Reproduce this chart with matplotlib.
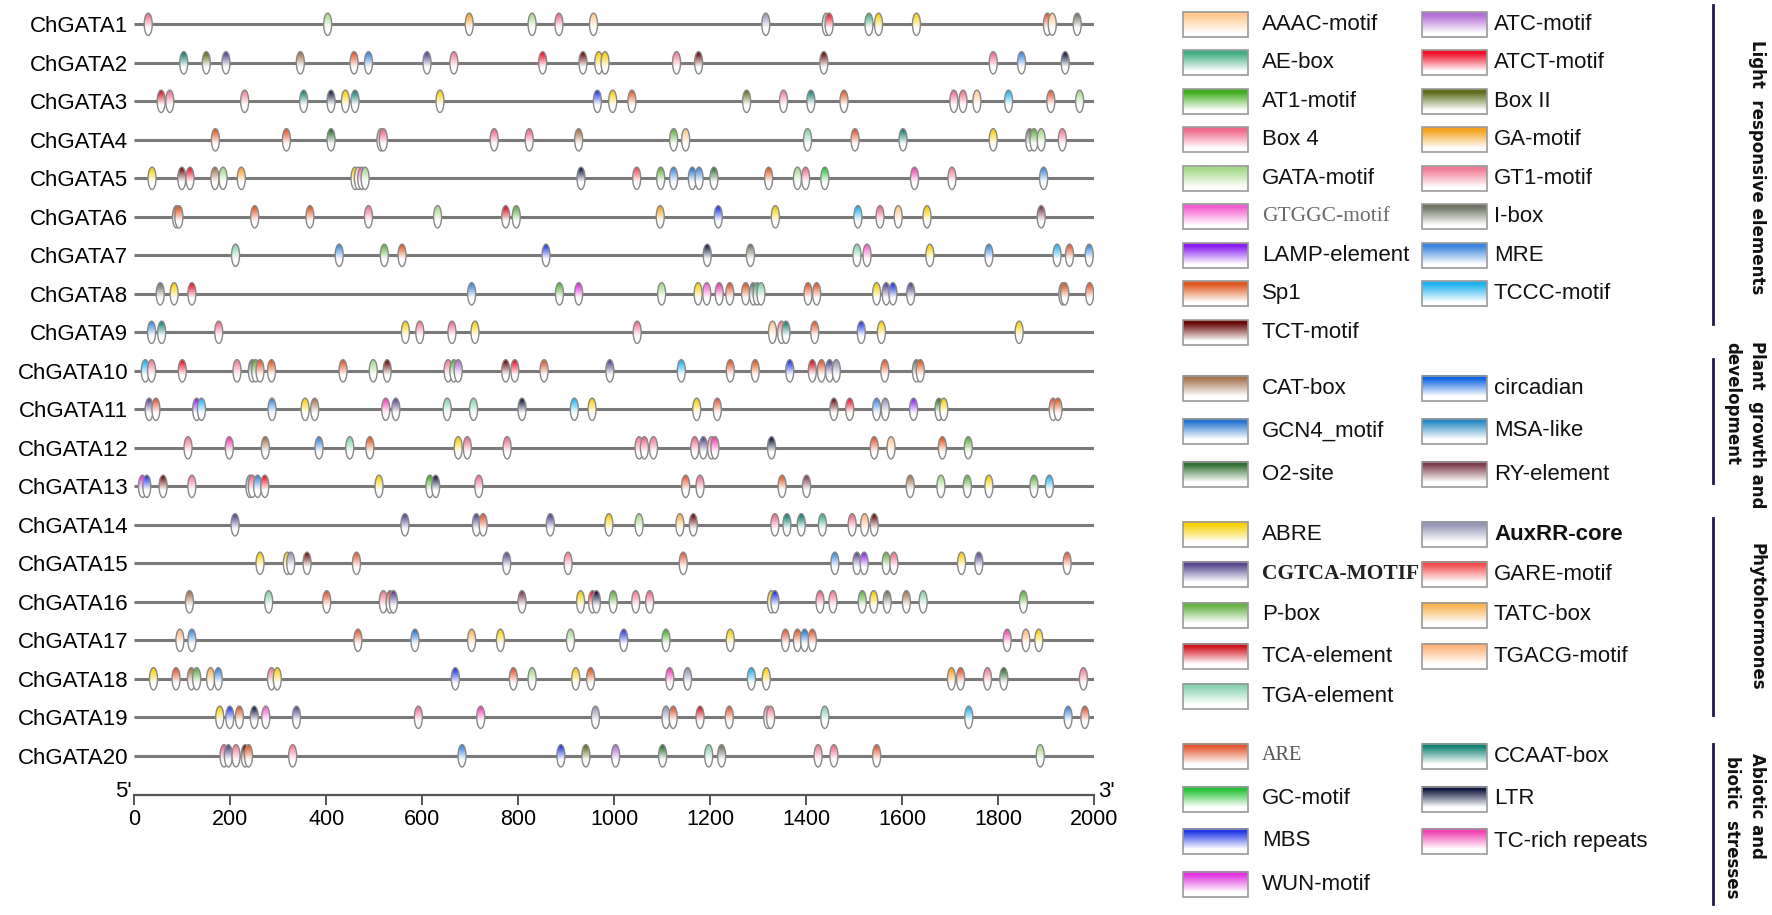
import numpy as np
import matplotlib
matplotlib.use("Agg")
import matplotlib.pyplot as plt
from matplotlib.patches import Ellipse, Rectangle
from matplotlib.colors import to_rgb

# promoter cis-elements of the ChGATA genes (position bp, element)
genes = ["ChGATA%d" % i for i in range(1, 21)]

gata1 = [(29, "Box 4"), (403, "GATA-motif"), (698, "GA-motif"), (829, "GATA-motif"), (885, "Box 4"),
         (957, "AAAC-motif"), (1316, "AuxRR-core"), (1442, "TGA-element"), (1448, "ATCT-motif"),
         (1531, "AE-box"), (1551, "ABRE"), (1630, "ABRE"), (1903, "ARE"), (1913, "AAAC-motif"), (1965, "I-box")]
gata2 = [(103, "CCAAT-box"), (150, "Box II"), (191, "CGTCA-MOTIF"), (346, "CAT-box"), (458, "ARE"),
         (488, "MRE"), (610, "CGTCA-MOTIF"), (666, "GT1-motif"), (851, "ATCT-motif"), (935, "TCT-motif"),
         (968, "ABRE"), (981, "ABRE"), (1130, "GT1-motif"), (1176, "TCT-motif"), (1437, "TCT-motif"),
         (1790, "Box 4"), (1849, "MRE"), (1940, "LTR")]
gata3 = [(56, "TCA-element"), (74, "Box 4"), (230, "GT1-motif"), (353, "CCAAT-box"), (410, "LTR"),
         (440, "ABRE"), (460, "CCAAT-box"), (637, "ABRE"), (965, "MBS"), (997, "ABRE"), (1037, "ARE"),
         (1276, "Box II"), (1353, "GT1-motif"), (1410, "CCAAT-box"), (1479, "Sp1"), (1708, "Box 4"),
         (1727, "Box 4"), (1756, "AAAC-motif"), (1822, "TCCC-motif"), (1910, "ARE"), (1970, "GATA-motif")]
gata4 = [(169, "Sp1"), (317, "ARE"), (410, "O2-site"), (514, "GT1-motif"), (519, "Box 4"), (750, "Box 4"),
         (823, "Box 4"), (926, "CAT-box"), (1124, "P-box"), (1149, "AAAC-motif"), (1403, "TGA-element"),
         (1502, "ARE"), (1602, "CCAAT-box"), (1790, "ABRE"), (1866, "I-box"), (1875, "P-box"),
         (1890, "GATA-motif"), (1934, "GT1-motif")]
gata5 = [(37, "ABRE"), (99, "TCT-motif"), (116, "ATCT-motif"), (168, "CAT-box"), (185, "GATA-motif"),
         (223, "GA-motif"), (460, "ABRE"), (467, "AAAC-motif"), (474, "GTGGC-motif"), (481, "GATA-motif"),
         (931, "LTR"), (1047, "GARE-motif"), (1097, "P-box"), (1124, "MRE"), (1163, "GCN4_motif"),
         (1177, "MRE"), (1208, "O2-site"), (1322, "Sp1"), (1382, "GATA-motif"), (1399, "Box 4"),
         (1439, "GC-motif"), (1626, "TC-rich repeats"), (1704, "GT1-motif"), (1895, "MRE")]
gata6 = [(88, "ARE"), (93, "Sp1"), (251, "ARE"), (366, "Sp1"), (488, "GT1-motif"), (632, "GATA-motif"),
         (774, "TCA-element"), (796, "P-box"), (1096, "GA-motif"), (1217, "MBS"), (1336, "ABRE"),
         (1508, "TCCC-motif"), (1554, "Box 4"), (1592, "AAAC-motif"), (1652, "ABRE"), (1890, "RY-element")]
gata7 = [(211, "TGA-element"), (427, "MRE"), (521, "P-box"), (558, "Sp1"), (858, "MBS"), (1194, "LTR"),
         (1284, "I-box"), (1506, "TGA-element"), (1527, "GTGGC-motif"), (1658, "ABRE"), (1781, "MRE"),
         (1923, "TCCC-motif"), (1949, "ARE"), (1990, "MRE")]
gata8 = [(54, "I-box"), (83, "ABRE"), (120, "ATCT-motif"), (703, "MRE"), (886, "P-box"), (926, "WUN-motif"),
         (1099, "GATA-motif"), (1175, "ABRE"), (1193, "GTGGC-motif"), (1219, "TC-rich repeats"),
         (1241, "ARE"), (1274, "Sp1"), (1290, "I-box"), (1298, "AE-box"), (1306, "TGA-element"),
         (1404, "ARE"), (1422, "ARE"), (1547, "ABRE"), (1567, "CGTCA-MOTIF"), (1581, "MBS"),
         (1618, "CGTCA-MOTIF"), (1935, "ARE"), (1939, "Sp1"), (1991, "ARE")]
gata9 = [(36, "MRE"), (57, "CCAAT-box"), (176, "Box 4"), (565, "ABRE"), (595, "GT1-motif"), (662, "Box 4"),
         (710, "ABRE"), (1048, "Box 4"), (1330, "AAAC-motif"), (1349, "GT1-motif"), (1358, "CCAAT-box"),
         (1418, "ARE"), (1515, "MBS"), (1557, "ABRE"), (1844, "ABRE")]
gata10 = [(23, "TCCC-motif"), (36, "GT1-motif"), (100, "ATCT-motif"), (214, "GT1-motif"), (246, "I-box"),
          (253, "P-box"), (262, "ARE"), (286, "Sp1"), (435, "ARE"), (498, "GATA-motif"), (527, "TCT-motif"),
          (654, "GT1-motif"), (666, "P-box"), (675, "ATC-motif"), (774, "TCT-motif"), (793, "ATCT-motif"),
          (854, "ARE"), (991, "CGTCA-MOTIF"), (1140, "TCCC-motif"), (1242, "ARE"), (1294, "Sp1"),
          (1366, "MBS"), (1413, "TCA-element"), (1432, "ARE"), (1449, "CGTCA-MOTIF"), (1463, "AuxRR-core"),
          (1564, "ARE"), (1630, "I-box"), (1638, "Sp1")]
gata11 = [(31, "CGTCA-MOTIF"), (45, "ARE"), (130, "LAMP-element"), (140, "TCCC-motif"), (287, "MRE"),
          (356, "ABRE"), (376, "CAT-box"), (524, "TC-rich repeats"), (545, "CGTCA-MOTIF"),
          (652, "TGA-element"), (707, "TGA-element"), (808, "LTR"), (917, "TCCC-motif"), (954, "ABRE"),
          (1172, "ABRE"), (1215, "ARE"), (1458, "TCT-motif"), (1491, "ATCT-motif"), (1547, "MRE"),
          (1565, "AuxRR-core"), (1624, "LAMP-element"), (1677, "O2-site"), (1687, "ABRE"), (1915, "ARE"),
          (1925, "Sp1")]
gata12 = [(112, "GT1-motif"), (198, "TC-rich repeats"), (273, "CAT-box"), (385, "MRE"), (449, "TGA-element"),
          (491, "Sp1"), (675, "ABRE"), (694, "Box 4"), (777, "Box 4"), (1052, "GT1-motif"), (1063, "Box 4"),
          (1082, "GT1-motif"), (1168, "Box 4"), (1186, "CGTCA-MOTIF"), (1203, "GT1-motif"),
          (1210, "TC-rich repeats"), (1328, "LTR"), (1542, "ARE"), (1577, "AAAC-motif"), (1684, "Sp1"),
          (1738, "P-box")]
gata13 = [(17, "WUN-motif"), (26, "MBS"), (60, "TCT-motif"), (120, "GT1-motif"), (241, "AuxRR-core"),
          (246, "Box 4"), (257, "MRE"), (272, "ATCT-motif"), (510, "ABRE"), (616, "AT1-motif"), (628, "LTR"),
          (718, "Box 4"), (1149, "ARE"), (1179, "Box 4"), (1350, "Sp1"), (1401, "RY-element"),
          (1617, "CAT-box"), (1681, "GATA-motif"), (1736, "P-box"), (1781, "ABRE"), (1875, "P-box"),
          (1907, "TCCC-motif")]
gata14 = [(210, "CGTCA-MOTIF"), (564, "CGTCA-MOTIF"), (713, "CGTCA-MOTIF"), (727, "ARE"), (867, "CGTCA-MOTIF"),
          (989, "ABRE"), (1052, "GATA-motif"), (1137, "TATC-box"), (1165, "TCT-motif"), (1335, "Box 4"),
          (1360, "CCAAT-box"), (1390, "CCAAT-box"), (1434, "AE-box"), (1496, "Box 4"), (1522, "TGACG-motif"),
          (1542, "TCT-motif")]
gata15 = [(262, "ABRE"), (319, "ABRE"), (326, "AuxRR-core"), (360, "TCT-motif"), (463, "ARE"),
          (776, "CGTCA-MOTIF"), (904, "GT1-motif"), (1144, "ARE"), (1460, "MRE"), (1506, "CGTCA-MOTIF"),
          (1521, "LAMP-element"), (1567, "P-box"), (1583, "Box 4"), (1724, "ABRE"), (1760, "CGTCA-MOTIF"),
          (1944, "ARE")]
gata16 = [(115, "CAT-box"), (280, "TGA-element"), (401, "ARE"), (519, "GT1-motif"), (533, "ARE"),
          (540, "CGTCA-MOTIF"), (808, "RY-element"), (930, "ABRE"), (955, "ATCT-motif"), (963, "LTR"),
          (998, "P-box"), (1045, "GT1-motif"), (1074, "Box 4"), (1328, "ABRE"), (1335, "MBS"), (1429, "Box 4"),
          (1456, "GT1-motif"), (1517, "P-box"), (1541, "ABRE"), (1569, "I-box"), (1609, "CAT-box"),
          (1644, "TGA-element"), (1853, "P-box")]
gata17 = [(95, "TGACG-motif"), (120, "MRE"), (466, "ARE"), (585, "GCN4_motif"), (703, "TATC-box"),
          (763, "ABRE"), (909, "GATA-motif"), (1020, "MBS"), (1108, "AT1-motif"), (1242, "ABRE"),
          (1357, "ARE"), (1382, "Sp1"), (1397, "GCN4_motif"), (1413, "ARE"), (1819, "TC-rich repeats"),
          (1858, "TGACG-motif"), (1885, "ABRE")]
gata18 = [(40, "ABRE"), (87, "ARE"), (119, "CAT-box"), (130, "P-box"), (159, "TATC-box"), (175, "MRE"),
          (286, "GT1-motif"), (298, "ABRE"), (669, "MBS"), (790, "ARE"), (829, "GATA-motif"), (920, "ABRE"),
          (951, "Sp1"), (1116, "TC-rich repeats"), (1153, "AuxRR-core"), (1286, "TCCC-motif"), (1317, "ABRE"),
          (1703, "GA-motif"), (1722, "ARE"), (1778, "GT1-motif"), (1812, "O2-site"), (1978, "GT1-motif")]
gata19 = [(178, "ABRE"), (199, "MBS"), (219, "Sp1"), (250, "LTR"), (274, "GTGGC-motif"), (338, "CGTCA-MOTIF"),
          (592, "Box 4"), (722, "TC-rich repeats"), (961, "AuxRR-core"), (1108, "AuxRR-core"), (1123, "ARE"),
          (1179, "TCA-element"), (1240, "ARE"), (1320, "GT1-motif"), (1326, "GT1-motif"),
          (1439, "TGA-element"), (1739, "TCCC-motif"), (1946, "MRE"), (1981, "ARE")]
gata20 = [(187, "Box 4"), (196, "CGTCA-MOTIF"), (212, "GT1-motif"), (231, "TCT-motif"), (238, "Sp1"),
          (330, "GT1-motif"), (683, "MRE"), (889, "MBS"), (941, "Box II"), (1003, "ATC-motif"),
          (1101, "O2-site"), (1197, "TGA-element"), (1224, "I-box"), (1425, "GT1-motif"), (1458, "Box 4"),
          (1547, "ARE"), (1888, "GATA-motif")]

rows = [gata1, gata2, gata3, gata4, gata5, gata6, gata7, gata8, gata9, gata10,
        gata11, gata12, gata13, gata14, gata15, gata16, gata17, gata18, gata19, gata20]

# legend groups: (column 1, column 2)
light = (["AAAC-motif", "AE-box", "AT1-motif", "Box 4", "GATA-motif", "GTGGC-motif", "LAMP-element", "Sp1", "TCT-motif"],
         ["ATC-motif", "ATCT-motif", "Box II", "GA-motif", "GT1-motif", "I-box", "MRE", "TCCC-motif"])
growth = (["CAT-box", "GCN4_motif", "O2-site"], ["circadian", "MSA-like", "RY-element"])
hormone = (["ABRE", "CGTCA-MOTIF", "P-box", "TCA-element", "TGA-element"],
           ["AuxRR-core", "GARE-motif", "TATC-box", "TGACG-motif"])
stress = (["ARE", "GC-motif", "MBS", "WUN-motif"], ["CCAAT-box", "LTR", "TC-rich repeats"])

colors = {
    "AAAC-motif": "#ffc98f", "ATC-motif": "#b36fd6", "AE-box": "#3fae82", "ATCT-motif": "#f0102a",
    "AT1-motif": "#3eae1c", "Box II": "#5e6e1c", "Box 4": "#f06a8c", "GA-motif": "#f5a21e",
    "GATA-motif": "#a6d98a", "GT1-motif": "#f27d96", "GTGGC-motif": "#f55fd0", "I-box": "#6e7564",
    "LAMP-element": "#8a1ff0", "MRE": "#3a86de", "Sp1": "#e0581e", "TCCC-motif": "#1fb2f0",
    "TCT-motif": "#6b0a0a", "CAT-box": "#a5734f", "circadian": "#0a62e0", "GCN4_motif": "#2272d0",
    "MSA-like": "#2488c2", "O2-site": "#2f6e2f", "RY-element": "#7c3a4a", "ABRE": "#f7d000",
    "AuxRR-core": "#9494b4", "CGTCA-MOTIF": "#54468e", "GARE-motif": "#f24a4a", "P-box": "#62b040",
    "TATC-box": "#f8b24e", "TCA-element": "#d0101c", "TGACG-motif": "#ffb47a", "TGA-element": "#86d2ac",
    "ARE": "#e2562e", "CCAAT-box": "#0f8070", "GC-motif": "#24c234", "LTR": "#0e163e", "MBS": "#1f35e6",
    "TC-rich repeats": "#f23fb2", "WUN-motif": "#e02ee0",
}


def grad(color, start=0.12, end=0.78, n=48):
    # colour at the top fading to white at the bottom
    t = np.linspace(0, 1, n)
    m = np.clip((t - start) / (end - start), 0, 1)[:, None]
    c = np.array(to_rgb(color))
    return (c * (1 - m) + m)[:, None, :]


W, H = 1772, 915
plt.rcParams['font.family'] = ['Liberation Sans', 'DejaVu Sans']
fig = plt.figure(figsize=(W / 100, H / 100), dpi=100)

# main panel
x0, x1 = 134.3, 1094.0
ytop, ybot = 5.05, 795.0
ax = fig.add_axes([x0 / W, 1 - ybot / H, (x1 - x0) / W, (ybot - ytop) / H])

ax.hlines(range(len(genes)), 0, 2000, color='#7a7a7a', lw=2.2, zorder=1)

ew, eh = 16.7, 0.58
for i, sites in enumerate(rows):
    for p, m in sorted(sites):
        clip = Ellipse((p, i), ew, eh, transform=ax.transData)
        im = ax.imshow(grad(colors[m], 0.08, 0.7), extent=(p - ew / 2, p + ew / 2, i + eh / 2, i - eh / 2),
                       aspect='auto', interpolation='bilinear', zorder=3)
        im.set_clip_path(clip)
        ax.add_patch(Ellipse((p, i), ew, eh, facecolor='none', edgecolor='#888888', lw=1.0, zorder=3))

ax.set_xlim(0, 2000)
ax.set_ylim((ybot - 24.3) / 38.5, -0.5)
ax.set_yticks(range(len(genes)), genes, fontsize=16)
ax.tick_params(axis='y', length=0, pad=4.5)
ax.set_xticks(np.arange(0, 2001, 200))
ax.tick_params(axis='x', direction='out', length=7, width=1.4, color='#555555', labelsize=15.5, pad=3)
for s in ['top', 'right', 'left']:
    ax.spines[s].set_visible(False)
ax.spines['bottom'].set_color('#555555')
ax.spines['bottom'].set_linewidth(1.6)
ax.text(-5, 19.93, "5'", ha='right', va='center', fontsize=16)
ax.text(2008, 19.93, "3'", ha='left', va='center', fontsize=16)

# legend panel in pixel coordinates
lax = fig.add_axes([0, 0, 1, 1])
lax.set_xlim(0, W)
lax.set_ylim(H, 0)
lax.axis('off')
lax.patch.set_alpha(0)

box_x = (1183, 1422)
text_x = (1262, 1494)
bw, bh = 65, 25
group_y = [
    (light, [24.3 + 38.5 * k for k in range(9)]),
    (growth, [388, 431, 474]),
    (hormone, [534, 574, 615, 656, 696]),
    (stress, [756, 799, 841, 884]),
]
special = {
    "GTGGC-motif": dict(family='Liberation Serif', color='#6a6a6a', fontsize=15.5),
    "CGTCA-MOTIF": dict(family='Liberation Serif', fontweight='bold', color='#222222', fontsize=15.5),
    "ARE": dict(family='Liberation Serif', color='#555555', fontsize=14.5),
    "AuxRR-core": dict(fontweight='bold', fontsize=16),
}
for cols, ys in group_y:
    for c, names in enumerate(cols):
        for name, y in zip(names, ys):
            bx = box_x[c]
            lax.imshow(grad(colors[name], 0.12, 0.85), extent=(bx, bx + bw, y + bh / 2, y - bh / 2),
                       aspect='auto', interpolation='bilinear', zorder=2)
            lax.add_patch(Rectangle((bx, y - bh / 2), bw, bh, fill=False, ec='#9a9a9a', lw=1.2, zorder=3))
            kw = dict(fontsize=16, color='#111111')
            kw.update(special.get(name, {}))
            lax.text(text_x[c], y, name, ha='left', va='center', **kw)

# category brackets
lx = 1713
for ya, yb in [(5, 324), (359, 483), (518, 715), (744, 904)]:
    lax.plot([lx, lx], [ya, yb], color='#1c1c4c', lw=2)
lab = dict(rotation=270, ha='center', va='center', fontsize=12, fontweight='bold',
           family='DejaVu Sans', color='#111111')
lax.text(1757, 167, "Light  responsive elements", **lab)
lax.text(1757, 425, "Plant  growth and", **lab)
lax.text(1732, 404, "development", **lab)
lax.text(1757, 617, "Phytohormones", **lab)
lax.text(1757, 806, "Abiotic and", **lab)
lax.text(1732, 827, "biotic  stresses", **lab)

lax.set_xlim(0, W)
lax.set_ylim(H, 0)

fig.savefig("out.png", dpi=100)
